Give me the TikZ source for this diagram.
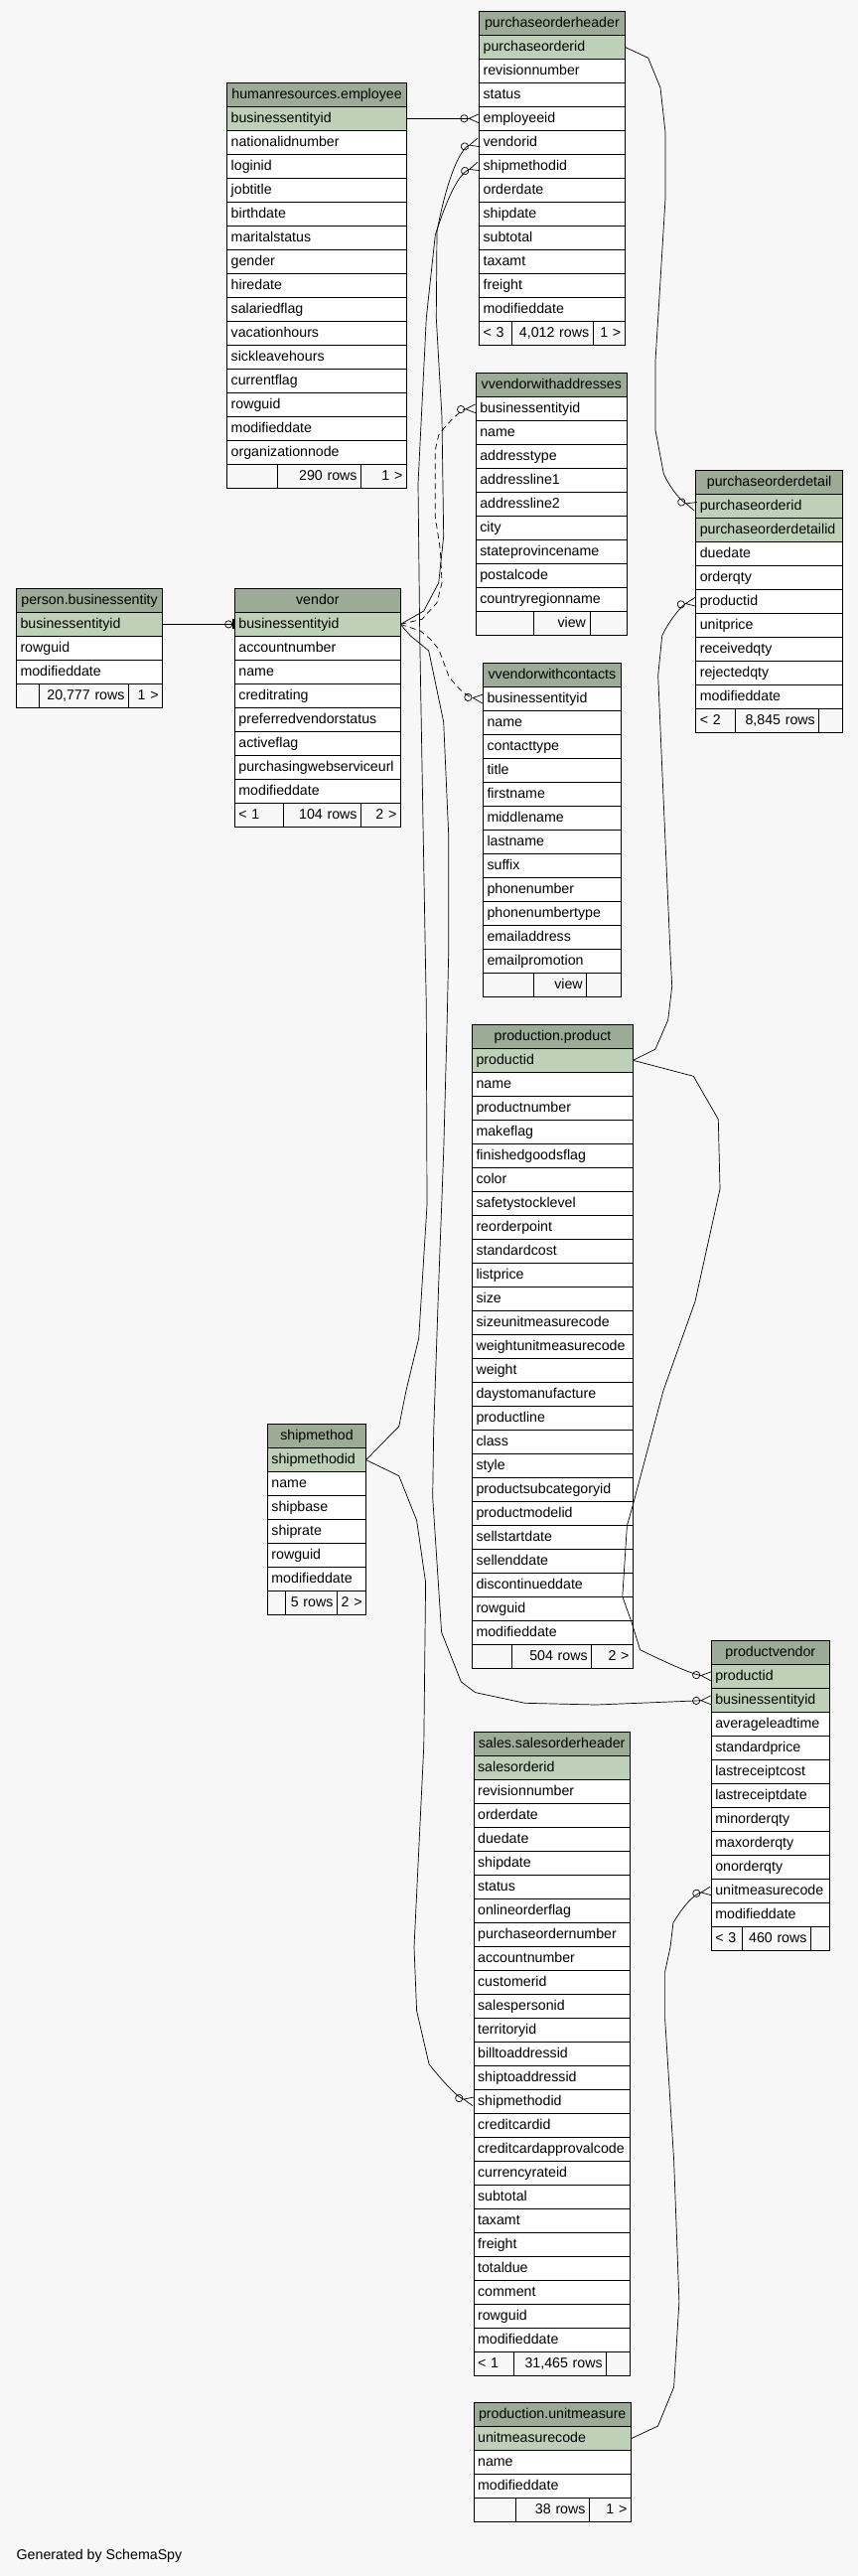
\documentclass[tikz,border=0pt]{standalone}
\usepackage{fontspec}
\setmainfont{Liberation Sans}
\usepackage{tikz}
\usetikzlibrary{positioning, arrows.meta}

\definecolor{bodybg}{HTML}{F7F7F7}
\definecolor{headbg}{HTML}{9BAB96}
\definecolor{keybg}{HTML}{BED1B8}
\newcommand{\tblfont}{\fontsize{14.2pt}{17pt}\selectfont}
\hyphenpenalty=10000
\lefthyphenmin=64

\begin{document}
\begin{tikzpicture}[
        x=1pt, y=-1pt,
        cell/.style={draw, line width=0.9pt, inner xsep=4pt, inner ysep=0pt, outer sep=0pt,
            minimum height=24pt, text height=10.5pt, text depth=3pt, font=\tblfont},
        hdr/.style={cell, fill=headbg, align=center},
        keyfld/.style={cell, fill=keybg, align=left},
        fld/.style={cell, fill=white, align=left},
        footl/.style={cell, fill=bodybg, align=left},
        footr/.style={cell, fill=bodybg, align=right},
        tw/.style={every node/.append style={text width=#1}},
        fk/.style={line width=0.7pt,
            -{Circle[open,length=8pt,width=8pt] Straight Barb[reversed,length=10pt,width=9pt]}},
        fkview/.style={fk, dash pattern=on 6pt off 4pt},
        onefk/.style={line width=0.7pt,
            -{Circle[open,length=8pt,width=8pt] Bar[width=10pt,line width=2.2pt]}}
    ]

    % canvas
    \fill[bodybg] (0,0) rectangle (864,2593);
    \useasboundingbox (0,0) rectangle (864,2593);

    % purchaseorderheader
    \begin{scope}[tw=138.6pt]
        \node[hdr] (poh-0) at (555.9,23.3) {purchaseorderheader};
        \node[keyfld, below=0pt of poh-0] (poh-1) {purchaseorderid};
        \foreach \f [count=\i from 2] in {revisionnumber, status, employeeid, vendorid,
                shipmethodid, orderdate, shipdate, subtotal, taxamt, freight, modifieddate} {
                \pgfmathtruncatemacro\j{\i-1}
                \node[fld, below=0pt of poh-\j] (poh-\i) {\f};
            }
        \node[footl, text width=24.6pt, anchor=north west] (poh-f1) at (poh-12.south west) {< 3};
        \node[footr, text width=74pt, right=0pt of poh-f1] (poh-f2) {4,012 rows};
        \node[footr, text width=24pt, right=0pt of poh-f2] (poh-f3) {1 >};
    \end{scope}

    % humanresources.employee
    \begin{scope}[tw=172.7pt]
        \node[hdr] (emp-0) at (319.05,95.3) {humanresources.employee};
        \node[keyfld, below=0pt of emp-0] (emp-1) {businessentityid};
        \foreach \f [count=\i from 2] in {nationalidnumber, loginid, jobtitle, birthdate,
                maritalstatus, gender, hiredate, salariedflag, vacationhours, sickleavehours,
                currentflag, rowguid, modifieddate, organizationnode} {
                \pgfmathtruncatemacro\j{\i-1}
                \node[fld, below=0pt of emp-\j] (emp-\i) {\f};
            }
        \node[footl, text width=42.6pt, anchor=north west] (emp-f1) at (emp-15.south west) {};
        \node[footr, text width=76.3pt, right=0pt of emp-f1] (emp-f2) {290 rows};
        \node[footr, text width=37.8pt, right=0pt of emp-f2] (emp-f3) {1 >};
    \end{scope}

    % vvendorwithaddresses (view)
    \begin{scope}[tw=144.1pt]
        \node[hdr] (vwa-0) at (555.35,387.3) {vvendorwithaddresses};
        \foreach \f [count=\i] in {businessentityid, name, addresstype, addressline1,
                addressline2, city, stateprovincename, postalcode, countryregionname} {
                \pgfmathtruncatemacro\j{\i-1}
                \node[fld, below=0pt of vwa-\j] (vwa-\i) {\f};
            }
        \node[footl, text width=49.9pt, anchor=north west] (vwa-f1) at (vwa-9.south west) {};
        \node[footr, text width=48.8pt, right=0pt of vwa-f1] (vwa-f2) {view};
        \node[footr, text width=29.4pt, right=0pt of vwa-f2] (vwa-f3) {};
    \end{scope}

    % purchaseorderdetail
    \begin{scope}[tw=139.7pt]
        \node[hdr] (pod-0) at (774.65,485.9) {purchaseorderdetail};
        \node[keyfld, below=0pt of pod-0] (pod-1) {purchaseorderid};
        \node[keyfld, below=0pt of pod-1] (pod-2) {purchaseorderdetailid};
        \foreach \f [count=\i from 3] in {duedate, orderqty, productid, unitprice,
                receivedqty, rejectedqty, modifieddate} {
                \pgfmathtruncatemacro\j{\i-1}
                \node[fld, below=0pt of pod-\j] (pod-\i) {\f};
            }
        \node[footl, text width=31.2pt, anchor=north west] (pod-f1) at (pod-9.south west) {< 2};
        \node[footr, text width=76.8pt, right=0pt of pod-f1] (pod-f2) {8,845 rows};
        \node[footr, text width=15.7pt, right=0pt of pod-f2] (pod-f3) {};
    \end{scope}

    % person.businessentity
    \begin{scope}[tw=139.1pt]
        \node[hdr] (pbe-0) at (90.05,604.4) {person.businessentity};
        \node[keyfld, below=0pt of pbe-0] (pbe-1) {businessentityid};
        \foreach \f [count=\i from 2] in {rowguid, modifieddate} {
                \pgfmathtruncatemacro\j{\i-1}
                \node[fld, below=0pt of pbe-\j] (pbe-\i) {\f};
            }
        \node[footl, text width=15.2pt, anchor=north west] (pbe-f1) at (pbe-3.south west) {};
        \node[footr, text width=81.8pt, right=0pt of pbe-f1] (pbe-f2) {20,777 rows};
        \node[footr, text width=26.1pt, right=0pt of pbe-f2] (pbe-f3) {1 >};
    \end{scope}

    % vendor
    \begin{scope}[tw=158.9pt]
        \node[hdr] (vendor-0) at (319.85,604.4) {vendor};
        \node[keyfld, below=0pt of vendor-0] (vendor-1) {businessentityid};
        \foreach \f [count=\i from 2] in {accountnumber, name, creditrating,
                preferredvendorstatus, activeflag, purchasingwebserviceurl, modifieddate} {
                \pgfmathtruncatemacro\j{\i-1}
                \node[fld, below=0pt of vendor-\j] (vendor-\i) {\f};
            }
        \node[footl, text width=41pt, anchor=north west] (vendor-f1) at (vendor-8.south west) {< 1};
        \node[footr, text width=70.2pt, right=0pt of vendor-f1] (vendor-f2) {104 rows};
        \node[footr, text width=31.7pt, right=0pt of vendor-f2] (vendor-f3) {2 >};
    \end{scope}

    % vvendorwithcontacts (view)
    \begin{scope}[tw=130.8pt]
        \node[hdr] (vwc-0) at (555.9,679.5) {vvendorwithcontacts};
        \foreach \f [count=\i] in {businessentityid, name, contacttype, title, firstname,
                middlename, lastname, suffix, phonenumber, phonenumbertype, emailaddress,
                emailpromotion} {
                \pgfmathtruncatemacro\j{\i-1}
                \node[fld, below=0pt of vwc-\j] (vwc-\i) {\f};
            }
        \node[footl, text width=42.8pt, anchor=north west] (vwc-f1) at (vwc-12.south west) {};
        \node[footr, text width=45.4pt, right=0pt of vwc-f1] (vwc-f2) {view};
        \node[footr, text width=26.6pt, right=0pt of vwc-f2] (vwc-f3) {};
    \end{scope}

    % production.product
    \begin{scope}[tw=154pt]
        \node[hdr] (prod-0) at (556.5,1043.3) {production.product};
        \node[keyfld, below=0pt of prod-0] (prod-1) {productid};
        \foreach \f [count=\i from 2] in {name, productnumber, makeflag, finishedgoodsflag,
                color, safetystocklevel, reorderpoint, standardcost, listprice, size,
                sizeunitmeasurecode, weightunitmeasurecode, weight, daystomanufacture,
                productline, class, style, productsubcategoryid, productmodelid,
                sellstartdate, sellenddate, discontinueddate, rowguid, modifieddate} {
                \pgfmathtruncatemacro\j{\i-1}
                \node[fld, below=0pt of prod-\j] (prod-\i) {\f};
            }
        \node[footl, text width=32pt, anchor=north west] (prod-f1) at (prod-25.south west) {};
        \node[footr, text width=72.2pt, right=0pt of prod-f1] (prod-f2) {504 rows};
        \node[footr, text width=33.8pt, right=0pt of prod-f2] (prod-f3) {2 >};
    \end{scope}

    % shipmethod
    \begin{scope}[tw=91.2pt]
        \node[hdr] (ship-0) at (319,1445.5) {shipmethod};
        \node[keyfld, below=0pt of ship-0] (ship-1) {shipmethodid};
        \foreach \f [count=\i from 2] in {name, shipbase, shiprate, rowguid, modifieddate} {
                \pgfmathtruncatemacro\j{\i-1}
                \node[fld, below=0pt of ship-\j] (ship-\i) {\f};
            }
        \node[footl, text width=10.2pt, anchor=north west] (ship-f1) at (ship-6.south west) {};
        \node[footr, text width=43.8pt, right=0pt of ship-f1] (ship-f2) {5 rows};
        \node[footr, text width=21.2pt, right=0pt of ship-f2] (ship-f3) {2 >};
    \end{scope}

    % productvendor
    \begin{scope}[tw=111pt]
        \node[hdr] (pv-0) at (775.8,1663.3) {productvendor};
        \node[keyfld, below=0pt of pv-0] (pv-1) {productid};
        \node[keyfld, below=0pt of pv-1] (pv-2) {businessentityid};
        \foreach \f [count=\i from 3] in {averageleadtime, standardprice, lastreceiptcost,
                lastreceiptdate, minorderqty, maxorderqty, onorderqty, unitmeasurecode,
                modifieddate} {
                \pgfmathtruncatemacro\j{\i-1}
                \node[fld, below=0pt of pv-\j] (pv-\i) {\f};
            }
        \node[footl, text width=22.8pt, anchor=north west] (pv-f1) at (pv-11.south west) {< 3};
        \node[footr, text width=61.4pt, right=0pt of pv-f1] (pv-f2) {460 rows};
        \node[footr, text width=10.8pt, right=0pt of pv-f2] (pv-f3) {};
    \end{scope}

    % sales.salesorderheader
    \begin{scope}[tw=149.1pt]
        \node[hdr] (soh-0) at (555.65,1755.3) {sales.salesorderheader};
        \node[keyfld, below=0pt of soh-0] (soh-1) {salesorderid};
        \foreach \f [count=\i from 2] in {revisionnumber, orderdate, duedate, shipdate,
                status, onlineorderflag, purchaseordernumber, accountnumber, customerid,
                salespersonid, territoryid, billtoaddressid, shiptoaddressid, shipmethodid,
                creditcardid, creditcardapprovalcode, currencyrateid, subtotal, taxamt,
                freight, totaldue, comment, rowguid, modifieddate} {
                \pgfmathtruncatemacro\j{\i-1}
                \node[fld, below=0pt of soh-\j] (soh-\i) {\f};
            }
        \node[footl, text width=32.4pt, anchor=north west] (soh-f1) at (soh-25.south west) {< 1};
        \node[footr, text width=85.2pt, right=0pt of soh-f1] (soh-f2) {31,465 rows};
        \node[footr, text width=15.5pt, right=0pt of soh-f2] (soh-f3) {};
    \end{scope}

    % production.unitmeasure
    \begin{scope}[tw=150.2pt]
        \node[hdr] (um-0) at (556.2,2430.7) {production.unitmeasure};
        \node[keyfld, below=0pt of um-0] (um-1) {unitmeasurecode};
        \foreach \f [count=\i from 2] in {name, modifieddate} {
                \pgfmathtruncatemacro\j{\i-1}
                \node[fld, below=0pt of um-\j] (um-\i) {\f};
            }
        \node[footl, text width=34.2pt, anchor=north west] (um-f1) at (um-3.south west) {};
        \node[footr, text width=66.2pt, right=0pt of um-f1] (um-f2) {38 rows};
        \node[footr, text width=33.8pt, right=0pt of um-f2] (um-f3) {1 >};
    \end{scope}

    % relationships
    \draw[fk] (emp-1.east) -- (poh-4.west);
    \draw[onefk] (pbe-1.east) -- (vendor-1.west);
    \draw[fk] (vendor-1.east) -- (426.7,615) -- (441.7,586.7) -- (446.7,540) -- (445,420)
        -- (439.3,320) -- (440,233) .. controls (452,170) and (466,148) .. (poh-5.west);
    \draw[fk] (ship-1.east) -- (401.8,1435.7) -- (408.9,1400) -- (421.7,1347) -- (430,1213)
        -- (429.3,1013) -- (428.3,960) -- (422.7,640) -- (421,487) -- (429.3,320)
        -- (438.3,236.7) .. controls (450,200) and (462,174) .. (poh-6.west);
    \draw[fk] (poh-1.east) -- (652.7,58.3) -- (665,88.3) -- (670,133) -- (670,200)
        -- (662.7,320) -- (660,363) -- (660,433) -- (668.3,476.7)
        .. controls (676,494) and (688,506) .. (pod-1.west);
    \draw[fk] (prod-1.east) -- (660,1056) -- (672.7,1026.7) -- (676.7,993) -- (675,960)
        -- (666.7,773) -- (662.7,680) -- (666.7,640)
        .. controls (674,624) and (688,608) .. (pod-5.west);
    \draw[fk] (prod-1.east) -- (698.3,1083.3) -- (723.3,1126.7) -- (725,1196.7) -- (700,1310)
        -- (667.9,1400) -- (637.5,1514.3) -- (631.4,1535.7) -- (626.8,1607) -- (635.7,1632)
        -- (644.6,1660.7) .. controls (680,1678) and (700,1686) .. (pv-1.west);
    \draw[fk] (vendor-1.east) -- (413.3,640) -- (431.7,655) -- (446.7,726.7) -- (451.7,840)
        -- (451.7,960) -- (450,1036.7) -- (446.7,1160) -- (441.7,1293) -- (436.7,1440)
        -- (435.7,1507) -- (444.6,1642.9) -- (464.3,1692.9) -- (478.6,1703.6)
        -- (528.6,1714.3) -- (600,1716) -- (642.9,1714.3) -- (pv-2.west);
    \draw[fk] (ship-1.east) -- (401.8,1485.7) -- (419.6,1530.4) -- (428.6,1592.9)
        -- (426.8,1757) -- (417,1960) -- (419.6,2024) -- (432.1,2077.9)
        .. controls (450,2100) and (462,2112) .. (soh-15.west);
    \draw[fk] (um-1.east) -- (662.5,2442.1) -- (678.6,2402.9) -- (683.9,2317) -- (678.6,2174.3)
        -- (669.6,2031.4) -- (669.6,1985) -- (675,1960) -- (677.9,1935.7)
        .. controls (688,1918) and (700,1906) .. (pv-10.west);
    \draw[fkview] (vendor-1.east) -- (425,623.3) -- (440,606.7) -- (445,586.7) -- (443.3,553)
        -- (438.3,520) -- (438.3,453) -- (441.7,438)
        .. controls (452,424) and (465,412) .. (vwa-1.west);
    \draw[fkview] (vendor-1.east) -- (423.3,635) -- (433.3,643.3) -- (441.7,653.3)
        -- (446.7,666.7) -- (451.7,680) .. controls (460,693) and (472,702) .. (vwc-1.west);

    \node[anchor=west, inner sep=0pt, font=\tblfont] (gen) at (16.5,2573) {Generated by SchemaSpy};

\end{tikzpicture}
\end{document}
